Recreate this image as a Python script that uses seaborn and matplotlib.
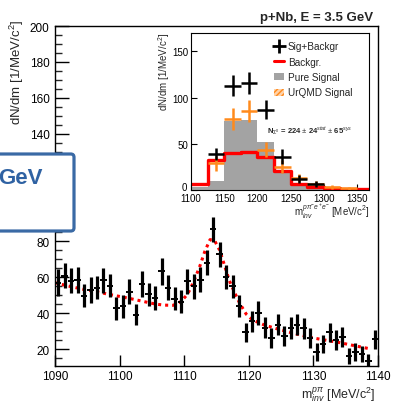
import numpy as np
import matplotlib
matplotlib.use("Agg")
import matplotlib.pyplot as plt
import matplotlib.transforms as mtransforms
from matplotlib.patches import FancyBboxPatch, Patch
from matplotlib.lines import Line2D
import seaborn as sns

# ---- main spectrum: p pi invariant mass, 1 MeV bins ----
mass = [1090.5, 1091.5, 1092.5, 1093.5, 1094.5, 1095.5, 1096.5, 1097.5, 1098.5, 1099.5,
        1100.5, 1101.5, 1102.5, 1103.5, 1104.5, 1105.5, 1106.5, 1107.5, 1108.5, 1109.5,
        1110.5, 1111.5, 1112.5, 1113.5, 1114.5, 1115.5, 1116.5, 1117.5, 1118.5, 1119.5,
        1120.5, 1121.5, 1122.5, 1123.5, 1124.5, 1125.5, 1126.5, 1127.5, 1128.5, 1129.5,
        1130.5, 1131.5, 1132.5, 1133.5, 1134.5, 1135.5, 1136.5, 1137.5, 1138.5, 1139.5]
counts = [57.0, 61.0, 58.2, 58.5, 49.8, 52.9, 54.3, 58.3, 55.3, 42.8,
          43.8, 52.0, 39.2, 56.3, 50.5, 48.5, 63.3, 54.3, 48.2, 46.5,
          57.9, 55.0, 58.7, 68.1, 86.8, 72.8, 60.1, 55.0, 44.1, 29.3,
          35.4, 40.2, 32.0, 26.2, 33.6, 27.4, 31.8, 33.6, 31.5, 26.2,
          18.6, 22.8, 29.3, 25.0, 26.8, 16.3, 18.6, 17.2, 13.2, 25.4]
errors = [7.5, 7.0, 7.0, 7.0, 6.5, 7.0, 6.5, 7.0, 6.5, 6.5,
          6.5, 7.0, 6.0, 7.0, 6.5, 6.5, 7.5, 7.0, 6.5, 6.5,
          7.0, 7.0, 7.0, 7.0, 7.0, 7.0, 6.5, 6.5, 6.0, 5.5,
          6.0, 6.5, 6.0, 5.5, 6.0, 5.5, 6.0, 6.0, 6.0, 5.5,
          5.0, 5.0, 5.5, 5.5, 5.5, 4.5, 5.0, 4.5, 4.0, 5.5]

# fit curve (signal + background)
fit_x = [1090.0, 1092.0, 1094.4, 1096.5, 1098.5, 1100.5, 1102.1, 1104.0, 1105.7, 1107.0,
         1108.3, 1109.5, 1110.5, 1111.4, 1112.4, 1113.2, 1114.0, 1114.7, 1115.5, 1116.3,
         1117.0, 1117.8, 1118.6, 1119.6, 1120.5, 1121.5, 1122.5, 1124.5, 1126.4, 1128.3,
         1130.3, 1132.2, 1134.1, 1136.5, 1139.0]
fit_y = [57.0, 55.2, 53.3, 51.9, 50.4, 49.0, 47.8, 46.3, 45.0, 44.5,
         44.4, 46.5, 50.5, 57.0, 66.0, 74.5, 81.0, 80.5, 75.0, 66.0,
         58.0, 51.5, 45.5, 39.5, 36.5, 34.8, 33.3, 31.2, 29.3, 27.6,
         26.0, 24.8, 23.6, 21.8, 20.0]

main_yticks = [20, 40, 60, 80, 100, 120, 140, 160, 180, 200]
main_yticklabels = ["20", "40", "60", "80", "", "", "140", "160", "180", "200"]

# ---- inset: p pi- e+ e- invariant mass, 25 MeV bins ----
bin_edges = [1100, 1125, 1150, 1175, 1200, 1225, 1250, 1275, 1300, 1325, 1350, 1375]
bin_centers = [1112.5, 1137.5, 1162.5, 1187.5, 1212.5, 1237.5, 1262.5, 1287.5, 1312.5, 1337.5, 1362.5]
backgr = [6, 32, 40, 41, 36, 21, 6, 3, 2, 1.5, 1]
pure_signal = [3, 10, 75, 76, 52, 18, 6, 3, 1.5, 1, 0.5]

sig_x = [1137.5, 1162.5, 1187.5, 1212.5, 1237.5, 1262.5, 1287.5]
sig_y = [39, 113, 116, 87, 36, 12, 6.5]
sig_err = [7, 11, 12, 10, 8, 4, 3]

urqmd_x = [1137.5, 1162.5, 1187.5, 1212.5, 1237.5, 1262.5, 1287.5, 1312.5, 1337.5]
urqmd_y = [29, 77, 85.5, 43.5, 25, 13, 7, 3.6, 2]
urqmd_err = [8, 12, 12, 8, 7, 4, 3, 2, 1.5]

sns.set_theme(style="ticks")
plt.rcParams["font.family"] = ["Liberation Sans", "DejaVu Sans"]
plt.rcParams["mathtext.fontset"] = "custom"
plt.rcParams["mathtext.rm"] = "Liberation Sans"
plt.rcParams["mathtext.it"] = "Liberation Sans:italic"
plt.rcParams["mathtext.bf"] = "Liberation Sans:bold"

W, H = 395, 406
fig = plt.figure(figsize=(W / 100, H / 100), dpi=100)
fig.patch.set_facecolor("white")


def fx(px):
    return px / W


def fy(py):
    return 1 - py / H


# main axes
ax = fig.add_axes([fx(55), fy(367), fx(378) - fx(55), fy(27) - fy(367)])
ax.set_facecolor("white")
ax.set_xlim(1090, 1140)
ax.set_ylim(10.6, 200)

sns.lineplot(x=fit_x, y=fit_y, ax=ax, color="red", linestyle=(0, (1, 1.3)),
             linewidth=2.2, zorder=2)
ax.errorbar(mass, counts, yerr=errors, fmt="none", ecolor="black",
            elinewidth=2.3, capsize=0, zorder=3)
ax.errorbar(mass, counts, xerr=0.5, fmt="none", ecolor="black",
            elinewidth=1.4, capsize=0, zorder=3)

ax.set_xticks([1090, 1100, 1110, 1120, 1130, 1140])
ax.set_yticks(main_yticks)
ax.set_yticklabels(main_yticklabels)
ax.set_yticks(np.arange(15, 200, 5), minor=True)
ax.tick_params(axis="both", which="major", direction="in", labelsize=8.5,
               colors="black", width=1, top=False, right=False, pad=4)
ax.tick_params(axis="x", which="major", length=8, pad=3)
ax.tick_params(axis="y", which="major", length=10)
ax.tick_params(axis="y", which="minor", direction="in", length=5, width=1, right=False)
for s in ax.spines.values():
    s.set_color("black")
    s.set_linewidth(1)
ax.set_xlabel("")
ax.set_ylabel("")

fig.text(fx(375), fy(399), r"m$^{p\pi}_{inv}$ [MeV/c$^{2}$]", ha="right",
         va="baseline", fontsize=9)
fig.text(fx(17), fy(20), r"dN/dm [1/MeV/c$^{2}$]", rotation=90, ha="center",
         va="top", fontsize=9.5)
fig.text(fx(373), fy(21), "p+Nb, E = 3.5 GeV", ha="right", va="baseline",
         fontsize=9.5, fontweight="bold")

# inset axes
axi = fig.add_axes([fx(191), fy(191), fx(369) - fx(191), fy(34) - fy(191)])
axi.set_facecolor("white")
axi.set_xlim(1100, 1368)
axi.set_ylim(0, 170)

sns.histplot(x=bin_centers, weights=pure_signal, bins=bin_edges, ax=axi,
             element="step", fill=True, color="#a3a3a3", alpha=1, linewidth=0, zorder=1)
sns.histplot(x=bin_centers, weights=backgr, bins=bin_edges, ax=axi,
             element="step", fill=False, color="#ff0000", linewidth=2.4, zorder=2)
axi.errorbar(urqmd_x, urqmd_y, yerr=urqmd_err, xerr=12.5, fmt="none",
             ecolor="#ff8a1c", elinewidth=1.8, capsize=0, zorder=3)
axi.errorbar(sig_x, sig_y, yerr=sig_err, xerr=12.5, fmt="none",
             ecolor="black", elinewidth=1.8, capsize=0, zorder=4)

axi.set_xticks([1100, 1150, 1200, 1250, 1300, 1350])
axi.set_yticks([0, 50, 100, 150])
axi.tick_params(axis="both", direction="in", labelsize=7, length=4, width=0.8,
                colors="black", pad=2, top=False, right=False)
for s in axi.spines.values():
    s.set_color("black")
    s.set_linewidth(0.8)
axi.set_xlabel("")
axi.set_ylabel("")

# lift the "0" label of the inset y axis a little off the "1100" label
fig.canvas.draw()
zero_lbl = axi.get_yticklabels()[0]
zero_lbl.set_transform(zero_lbl.get_transform()
                       + mtransforms.ScaledTranslation(-1 / 100, 4 / 100, fig.dpi_scale_trans))

fig.text(fx(370), fy(216), r"m$^{p\pi^{-}e^{+}e^{-}}_{inv}$ [MeV/c$^{2}$]", ha="right",
         va="baseline", fontsize=7)
fig.text(fx(164), fy(33), r"dN/dm [1/MeV/c$^{2}$]", rotation=90, ha="center",
         va="top", fontsize=7)
fig.text(fx(267), fy(131), r"N$_{\Sigma^0}$ = 224 $\pm$ 24$^{stat}$ $\pm$ 65$^{sys}$",
         ha="left", va="center", fontsize=5.5, fontweight="bold")

handles = [
    Line2D([0], [0], color="black", marker="+", markersize=10, mew=2, linestyle="none"),
    Line2D([0], [0], color="#ff0000", lw=2.2),
    Patch(facecolor="#a3a3a3", edgecolor="none"),
    Patch(facecolor="#ffd2a8", edgecolor="#ff8a1c", hatch="//////", linewidth=0),
]
labels = ["Sig+Backgr", "Backgr.", "Pure Signal", "UrQMD Signal"]
axi.legend(handles, labels, loc="upper left", bbox_to_anchor=(0.42, 1.0),
           frameon=False, fontsize=7.2, handlelength=1.0, handletextpad=0.4,
           labelspacing=0.55, borderaxespad=0.4)

# overlay box on the left
box = FancyBboxPatch((fx(-30), fy(232)), fx(74) - fx(-30), fy(155) - fy(232),
                     boxstyle="round,pad=0,rounding_size=0.008",
                     transform=fig.transFigure, facecolor="white",
                     edgecolor="#3a6aa5", linewidth=2.3, zorder=20)
fig.add_artist(box)
fig.text(fx(43), fy(179), "GeV", ha="right", va="center", fontsize=16,
         fontweight="bold", color="#2f62a3", zorder=21)

fig.savefig("out.png", dpi=100)
